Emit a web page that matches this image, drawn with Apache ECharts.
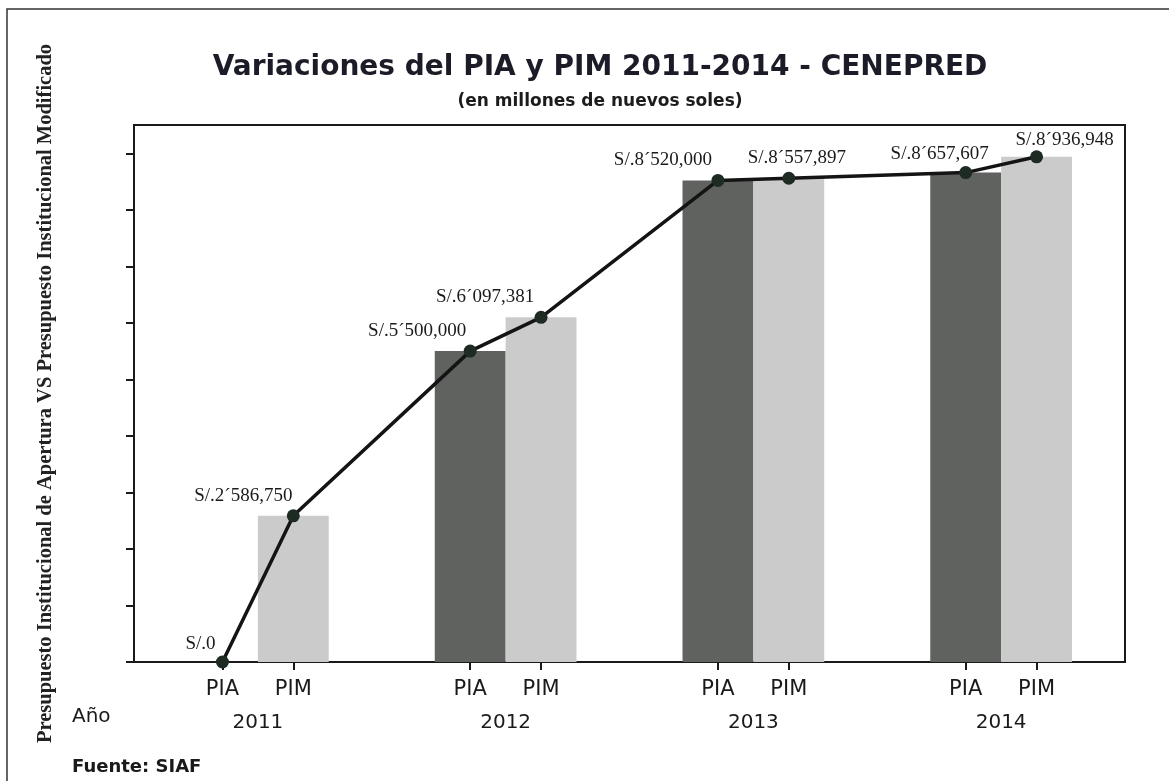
<!DOCTYPE html>
<html>
<head>
<meta charset="utf-8">
<title>Variaciones del PIA y PIM 2011-2014 - CENEPRED</title>
<script src="https://cdn.jsdelivr.net/npm/echarts@6/dist/echarts.min.js"></script>
<style>
    html,body{margin:0;padding:0;background:#fff;}
    #chart{width:1169px;height:781px;}
</style>
</head>
<body>
<div id="chart"></div>
<script>
// datos
var years = ['2011', '2012', '2013', '2014'];
var kinds = ['PIA', 'PIM'];
var pia = [0, 5500000, 8520000, 8657607];
var pim = [2586750, 6097381, 8557897, 8936948];
var yTicks = [0, 1000000, 2000000, 3000000, 4000000, 5000000, 6000000, 7000000, 8000000, 9000000];

// desplazamiento de cada etiqueta (PIA2011, PIM2011, PIA2012, ...)
var labelShift = [[-22, 2], [-50, 0], [-53, 0], [-56, 0], [-55, 0], [8, 0], [-26, 1], [28, 3]];

var barFrac = 0.286;   // ancho de barra respecto a la categoria

function money(v){
    if(v === 0) return 'S/.0';
    var m = Math.floor(v / 1000000);
    var rest = String(v % 1000000);
    while(rest.length < 6) rest = '0' + rest;
    return 'S/.' + m + '\u00b4' + rest.slice(0, 3) + ',' + rest.slice(3);
}

// puntos de la linea en el centro de cada barra (eje x auxiliar 0..4)
var linePts = [];
var subTicks = [];
var subNames = {};
years.forEach(function(y, i){
    var xa = i + 0.5 - barFrac / 2;
    var xb = i + 0.5 + barFrac / 2;
    subTicks.push(xa, xb);
    subNames[xa.toFixed(4)] = kinds[0];
    subNames[xb.toFixed(4)] = kinds[1];
    linePts.push([xa, pia[i]], [xb, pim[i]]);
});

var lineData = linePts.map(function(p, k){
    return {
        value: p,
        label: {offset: labelShift[k]}
    };
});

var myChart = echarts.init(document.getElementById('chart'));
var option = {
    backgroundColor: '#fff',
    animation: false,
    title: {
        text: 'Variaciones del PIA y PIM 2011-2014 - CENEPRED',
        subtext: '(en millones de nuevos soles)',
        left: 595,
        top: 49,
        textAlign: 'center',
        itemGap: 11,
        textStyle: {fontFamily: 'DejaVu Sans', fontWeight: 'bold', fontSize: 28, color: '#1c1c28'},
        subtextStyle: {fontFamily: 'DejaVu Sans', fontWeight: 'bold', fontSize: 17, color: '#1c1c1c'}
    },
    grid: {
        left: 134, right: 44, top: 125, bottom: 119,
        show: true, borderColor: '#1a1a1a', borderWidth: 2
    },
    xAxis: [
        {
            type: 'category',
            data: years,
            axisLine: {lineStyle: {color: '#1a1a1a', width: 2}},
            axisTick: {show: false},
            axisLabel: {margin: 51, fontFamily: 'DejaVu Sans', fontSize: 20, color: '#1a1a1a'}
        },
        {
            type: 'value',
            min: 0,
            max: years.length,
            position: 'bottom',
            offset: 0,
            axisLine: {show: false},
            splitLine: {show: false},
            axisTick: {show: true, length: 8, customValues: subTicks, lineStyle: {color: '#1a1a1a', width: 2}},
            axisLabel: {
                margin: 17, fontFamily: 'DejaVu Sans', fontSize: 21, color: '#1a1a1a',
                customValues: subTicks,
                formatter: function(v){ return subNames[v.toFixed(4)] || ''; }
            }
        }
    ],
    yAxis: {
        type: 'value',
        min: 0,
        max: 9500000,
        interval: 1000000,
        name: 'Presupuesto Institucional de Apertura VS Presupuesto Institucional Modificado',
        nameLocation: 'middle',
        nameGap: 78,
        nameTextStyle: {fontFamily: 'Liberation Serif', fontWeight: 'bold', fontSize: 20.5, color: '#222'},
        axisLine: {show: true, lineStyle: {color: '#1a1a1a', width: 2}},
        axisTick: {show: true, inside: false, length: 8, customValues: yTicks, lineStyle: {color: '#1a1a1a', width: 2}},
        axisLabel: {show: false},
        splitLine: {show: false}
    },
    series: [
        {
            name: 'PIA', type: 'bar', data: pia,
            barWidth: (barFrac * 100) + '%', barGap: '0%',
            itemStyle: {color: '#5f625f'}
        },
        {
            name: 'PIM', type: 'bar', data: pim,
            barWidth: (barFrac * 100) + '%', barGap: '0%',
            itemStyle: {color: '#cbcbcb'}
        },
        {
            name: 'Linea', type: 'line', xAxisIndex: 1, data: lineData,
            symbol: 'circle', symbolSize: 13,
            itemStyle: {color: '#1d2b22'},
            lineStyle: {color: '#141414', width: 3.5},
            z: 5,
            label: {
                show: true, position: 'top', distance: 4,
                fontFamily: 'Liberation Serif', fontSize: 19, color: '#1a1a1a',
                formatter: function(p){ return money(p.value[1]); }
            }
        }
    ],
    graphic: [
        {type: 'rect', shape: {x: 7, y: 9, width: 1300, height: 900}, style: {fill: 'none', stroke: '#333', lineWidth: 1.5}, silent: true},
        {type: 'text', left: 72, top: 707, style: {text: 'Año', font: '20px "DejaVu Sans"', fill: '#1a1a1a'}},
        {type: 'text', left: 72, top: 758, style: {text: 'Fuente: SIAF', font: 'bold 18px "DejaVu Sans"', fill: '#1a1a1a'}}
    ]
};
myChart.setOption(option);
</script>
</body>
</html>
